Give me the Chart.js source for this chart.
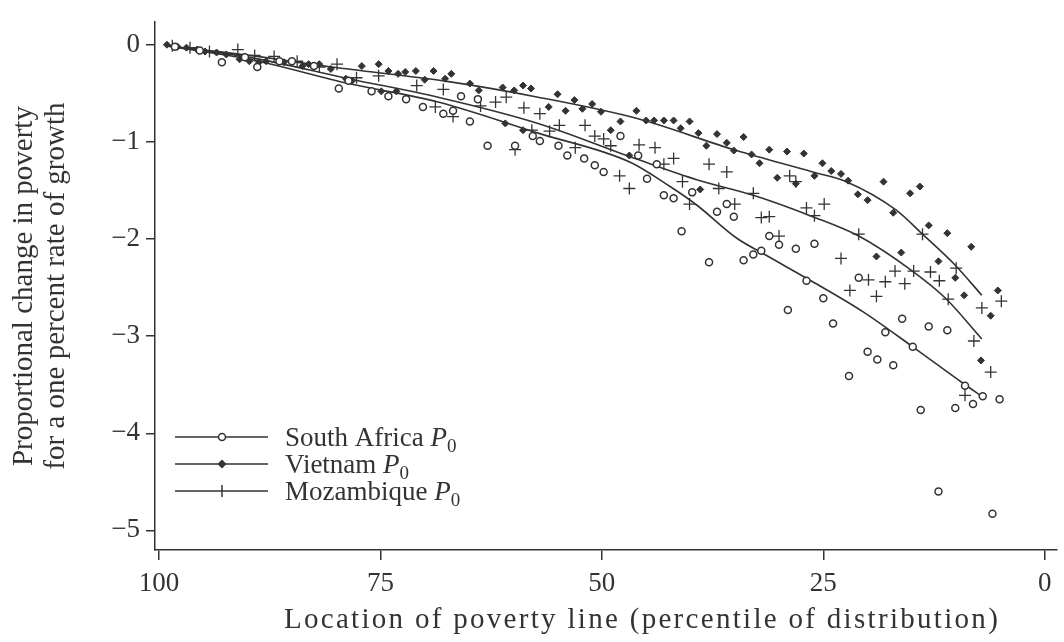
<!DOCTYPE html>
<html>
<head>
<meta charset="utf-8">
<script src="https://cdn.jsdelivr.net/npm/chart.js@4.4.1/dist/chart.umd.min.js"></script>
<style>
    html, body { margin: 0; padding: 0; background: #fff; }
    canvas { display: block; }
</style>
</head>
<body>
<canvas id="myChart" width="1064" height="642"></canvas>
<script>
//==========================================DATA===================================//
var seriesNames = ["South Africa", "Vietnam", "Mozambique"];
var xTicks = [100, 75, 50, 25, 0];
var yTicks = [0, -1, -2, -3, -4, -5];
var xTitle = "Location of poverty line (percentile of distribution)";
var yTitle = ["Proportional change in poverty", "for a one percent rate of growth"];

// scatter points [percentile, change]
var southAfricaPoints = [[98.2,-0.02],[95.4,-0.06],[92.9,-0.18],[90.3,-0.13],[88.9,-0.23],[86.4,-0.17],[85.0,-0.17],[82.5,-0.22],
    [79.7,-0.45],[78.6,-0.37],[76.0,-0.48],[74.1,-0.53],[72.1,-0.56],[70.2,-0.64],[67.9,-0.71],[66.8,-0.68],[65.9,-0.53],
    [64.9,-0.79],[64.0,-0.56],[62.9,-1.04],[59.8,-1.04],[57.8,-0.94],[57.0,-0.99],[54.9,-1.04],[53.9,-1.14],[52.0,-1.17],
    [50.8,-1.24],[49.8,-1.31],[47.9,-0.94],[45.9,-1.14],[44.9,-1.38],[43.8,-1.23],[43.0,-1.55],[41.9,-1.58],[41.0,-1.92],
    [39.8,-1.52],[37.9,-2.24],[37.0,-1.72],[35.9,-1.64],[35.1,-1.77],[34.0,-2.22],[32.9,-2.16],[32.0,-2.12],[31.1,-1.97],
    [30.0,-2.06],[29.0,-2.73],[28.1,-2.10],[26.9,-2.43],[26.0,-2.05],[25.0,-2.61],[23.9,-2.87],[22.1,-3.41],[21.0,-2.40],
    [20.0,-3.16],[18.9,-3.24],[18.0,-2.96],[17.1,-3.30],[16.1,-2.82],[14.9,-3.11],[14.0,-3.76],[13.1,-2.90],[12.0,-4.60],
    [11.0,-2.94],[10.1,-3.74],[9.0,-3.51],[8.1,-3.70],[7.0,-3.62],[5.9,-4.83],[5.1,-3.65]];
var vietnamPoints = [[99.1,0.00],[97.9,-0.02],[96.9,-0.03],[95.7,-0.05],[94.8,-0.07],[93.5,-0.08],[92.4,-0.10],[90.9,-0.15],
    [89.8,-0.17],[88.7,-0.18],[87.9,-0.17],[85.9,-0.18],[83.8,-0.22],[83.1,-0.20],[81.9,-0.20],[80.6,-0.25],[78.9,-0.35],
    [78.2,-0.37],[77.1,-0.22],[75.2,-0.20],[74.9,-0.48],[74.1,-0.27],[73.2,-0.48],[73.0,-0.30],[72.2,-0.28],[71.0,-0.27],
    [70.0,-0.36],[69.0,-0.27],[67.7,-0.35],[67.0,-0.30],[64.9,-0.40],[63.9,-0.47],[61.2,-0.44],[60.9,-0.81],[59.9,-0.47],
    [58.9,-0.42],[58.9,-0.88],[58.0,-0.45],[56.0,-0.64],[55.0,-0.51],[54.1,-0.68],[53.1,-0.57],[52.2,-0.66],[51.1,-0.61],
    [50.1,-0.69],[49.0,-0.88],[47.9,-0.79],[46.9,-1.14],[46.1,-0.68],[45.0,-0.78],[44.1,-0.78],[43.0,-0.78],[41.9,-0.78],
    [41.1,-0.86],[40.1,-0.79],[39.1,-0.91],[38.9,-1.49],[38.2,-1.04],[37.0,-0.92],[35.9,-1.01],[35.1,-1.09],[34.0,-0.95],
    [33.1,-1.13],[32.2,-1.22],[31.1,-1.08],[30.2,-1.37],[29.1,-1.10],[28.1,-1.43],[27.2,-1.12],[26.0,-1.35],[25.1,-1.22],
    [24.1,-1.30],[23.0,-1.33],[22.2,-1.40],[21.1,-1.54],[20.0,-1.60],[19.0,-2.18],[18.2,-1.41],[17.1,-1.73],[16.2,-2.14],
    [15.2,-1.53],[14.1,-1.46],[13.1,-1.86],[12.0,-2.23],[11.0,-1.94],[10.1,-2.40],[9.1,-2.58],[8.3,-2.08],[7.2,-3.25],
    [6.1,-2.79],[5.3,-2.53]];
var mozambiquePoints = [[98.5,-0.01],[96.5,-0.03],[94.3,-0.07],[91.1,-0.05],[89.2,-0.11],[87.0,-0.12],[84.4,-0.17],[81.9,-0.23],
    [79.9,-0.20],[77.7,-0.34],[75.2,-0.32],[70.9,-0.42],[68.8,-0.64],[67.9,-0.46],[66.8,-0.74],[63.7,-0.63],[62.0,-0.59],
    [60.8,-0.54],[59.8,-1.08],[58.8,-0.65],[57.9,-0.88],[57.0,-0.71],[55.9,-0.89],[54.8,-0.83],[53.0,-1.06],[51.9,-0.83],
    [50.8,-0.94],[49.8,-0.97],[49.0,-1.04],[48.0,-1.35],[46.9,-1.48],[45.8,-1.03],[44.0,-1.06],[43.0,-1.23],[41.9,-1.17],
    [40.9,-1.41],[40.1,-1.64],[37.9,-1.23],[36.8,-1.48],[35.9,-1.31],[35.0,-1.64],[32.9,-1.53],[32.0,-1.78],[31.1,-1.77],
    [30.0,-1.97],[28.8,-1.35],[28.1,-1.41],[26.9,-1.68],[26.0,-1.76],[24.9,-1.64],[23.0,-2.20],[22.0,-2.53],[21.0,-1.95],
    [19.9,-2.42],[19.0,-2.59],[18.0,-2.44],[16.9,-2.33],[15.8,-2.46],[14.8,-2.33],[13.8,-1.95],[12.9,-2.34],[11.9,-2.43],
    [10.9,-2.62],[10.0,-2.30],[9.0,-3.61],[8.0,-3.05],[7.1,-2.71],[6.1,-3.37],[4.9,-2.64]];

// smoothed curves
var southAfricaLine = [[99.3,-0.01],[89.8,-0.15],[78.6,-0.40],[68.5,-0.59],[57.2,-0.91],[46.8,-1.21],[42.3,-1.46],[39.3,-1.65],
    [34.8,-1.99],[31.8,-2.15],[26.2,-2.44],[20.5,-2.75],[14.9,-3.11],[9.3,-3.48],[7.1,-3.62]];
var vietnamLine = [[99.3,-0.01],[89.8,-0.11],[80.5,-0.23],[67.3,-0.38],[57.2,-0.54],[46.0,-0.76],[34.8,-1.09],[26.2,-1.31],
    [22.4,-1.41],[16.8,-1.70],[13.8,-1.95],[10.1,-2.27],[7.1,-2.58]];
var mozambiqueLine = [[99.3,-0.01],[89.8,-0.13],[78.6,-0.35],[68.5,-0.54],[57.2,-0.81],[46.0,-1.18],[39.3,-1.39],[32.9,-1.55],
    [26.2,-1.77],[21.0,-1.97],[15.4,-2.30],[11.2,-2.61],[7.1,-3.03]];

//======================================CHART STUFF==================================//
var ink = "#333333";
var serif = "'Liberation Serif', 'DejaVu Serif', serif";

function toXY(arr){
    return arr.map(function(p){ return {x: p[0], y: p[1]}; });
}
function minusLabel(v){
    return v < 0 ? "\u2212" + Math.abs(v) : "" + v;
}

function drawMarker(ctx, kind, x, y){
    ctx.save();
    ctx.strokeStyle = ink;
    ctx.fillStyle = ink;
    ctx.lineWidth = 1.5;
    if(kind == 0){
        ctx.beginPath();
        ctx.arc(x, y, 3.5, 0, Math.PI * 2);
        ctx.fillStyle = "#fff";
        ctx.fill();
        ctx.stroke();
    }else if(kind == 1){
        ctx.beginPath();
        ctx.moveTo(x, y - 4.5); ctx.lineTo(x + 4.5, y); ctx.lineTo(x, y + 4.5); ctx.lineTo(x - 4.5, y);
        ctx.closePath();
        ctx.fill();
    }else{
        ctx.beginPath();
        ctx.moveTo(x, y - 6); ctx.lineTo(x, y + 6);
        ctx.stroke();
    }
    ctx.restore();
}

// legend inside the plot (bottom left) + the wide x axis title
var insideLegend = {
    id: "insideLegend",
    afterDraw: function(chart){
        var ctx = chart.ctx;
        var rows = [437, 464, 491];
        for(var i = 0; i < seriesNames.length; i++){
            var y = rows[i];
            ctx.save();
            ctx.strokeStyle = ink;
            ctx.lineWidth = 1.5;
            ctx.beginPath();
            ctx.moveTo(175, y);
            ctx.lineTo(268, y);
            ctx.stroke();
            ctx.restore();
            drawMarker(ctx, i, 222, y);

            ctx.save();
            ctx.fillStyle = ink;
            ctx.textBaseline = "alphabetic";
            ctx.font = "27px " + serif;
            var tx = 285;
            ctx.fillText(seriesNames[i] + " ", tx, y + 9);
            tx += ctx.measureText(seriesNames[i] + " ").width;
            ctx.font = "italic 27px " + serif;
            ctx.fillText("P", tx, y + 9);
            tx += ctx.measureText("P").width;
            ctx.font = "19px " + serif;
            ctx.fillText("0", tx, y + 15);
            ctx.restore();
        }

        // x title, spaced out like the original
        ctx.save();
        ctx.fillStyle = ink;
        ctx.font = "29px " + serif;
        ctx.textAlign = "center";
        ctx.textBaseline = "middle";
        if("letterSpacing" in ctx){
            ctx.letterSpacing = "2.3px";
        }
        ctx.fillText(xTitle, 642, 620);
        ctx.restore();
    }
};

new Chart("myChart", {
    type: "scatter",
    data: {
        datasets: [{
            label: seriesNames[0],
            data: toXY(southAfricaPoints),
            pointStyle: "circle",
            pointRadius: 3.5,
            pointBackgroundColor: "#ffffff",
            pointBorderColor: ink,
            pointBorderWidth: 1.5
        },{
            label: seriesNames[1],
            data: toXY(vietnamPoints),
            pointStyle: "rectRot",
            pointRadius: 3.5,
            pointBackgroundColor: ink,
            pointBorderColor: ink,
            pointBorderWidth: 1
        },{
            label: seriesNames[2],
            data: toXY(mozambiquePoints),
            pointStyle: "cross",
            pointRadius: 6,
            pointBorderColor: ink,
            pointBorderWidth: 1.3
        },{
            label: seriesNames[0] + " smooth",
            data: toXY(southAfricaLine),
            showLine: true,
            pointRadius: 0,
            borderColor: ink,
            borderWidth: 1.6,
            cubicInterpolationMode: "monotone"
        },{
            label: seriesNames[1] + " smooth",
            data: toXY(vietnamLine),
            showLine: true,
            pointRadius: 0,
            borderColor: ink,
            borderWidth: 1.6,
            cubicInterpolationMode: "monotone"
        },{
            label: seriesNames[2] + " smooth",
            data: toXY(mozambiqueLine),
            showLine: true,
            pointRadius: 0,
            borderColor: ink,
            borderWidth: 1.6,
            cubicInterpolationMode: "monotone"
        }]
    },
    options: {
        responsive: false,
        animation: false,
        layout: { padding: { top: 12, right: 2, left: 0, bottom: 0 } },
        plugins: {
            legend: { display: false },
            tooltip: { enabled: false }
        },
        scales: {
            x: {
                type: "linear",
                reverse: true,
                min: -1.35,
                max: 100.45,
                afterFit: function(scale){ scale.height = 92; },
                afterBuildTicks: function(scale){
                    scale.ticks = xTicks.map(function(v){ return {value: v}; });
                },
                grid: { drawOnChartArea: false, drawTicks: true, tickLength: 10, color: ink, lineWidth: 1.5 },
                border: { display: true, color: ink, width: 1.5 },
                ticks: {
                    color: ink,
                    padding: 8,
                    maxRotation: 0,
                    font: { family: serif, size: 27 },
                    callback: function(v){ return minusLabel(v); }
                },
                title: { display: false }
            },
            y: {
                type: "linear",
                min: -5.202,
                max: 0.232,
                afterFit: function(scale){ scale.width = 155; },
                afterBuildTicks: function(scale){
                    scale.ticks = yTicks.map(function(v){ return {value: v}; });
                },
                grid: { drawOnChartArea: false, drawTicks: true, tickLength: 9, color: ink, lineWidth: 1.5 },
                border: { display: true, color: ink, width: 1.5 },
                ticks: {
                    color: ink,
                    padding: 6,
                    font: { family: serif, size: 27 },
                    callback: function(v){ return minusLabel(v); }
                },
                title: {
                    display: true,
                    text: yTitle,
                    color: ink,
                    font: { family: serif, size: 29, lineHeight: 1.12 },
                    padding: { top: 8, bottom: 0 }
                }
            }
        }
    },
    plugins: [insideLegend]
});
</script>
</body>
</html>
